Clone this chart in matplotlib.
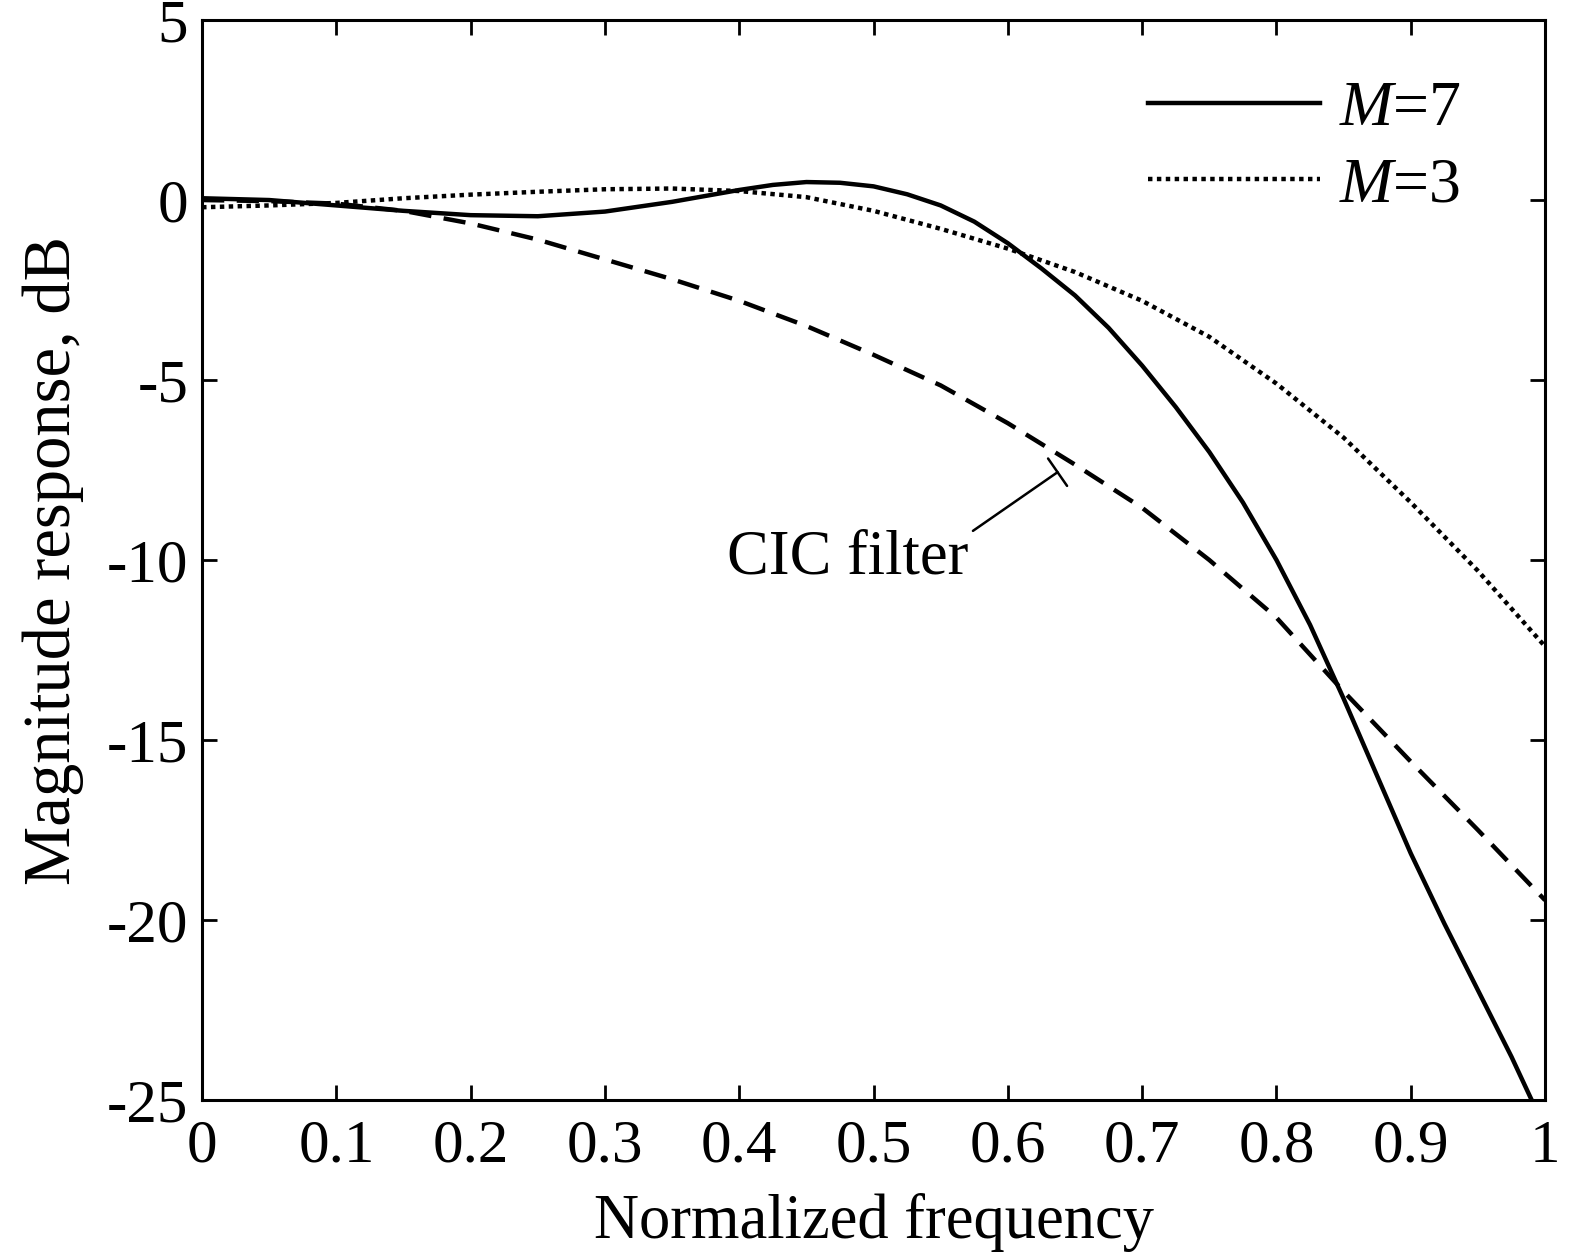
import numpy as np
import matplotlib
matplotlib.use("Agg")
import matplotlib.pyplot as plt

plt.rcParams['font.family'] = ['Liberation Serif', 'DejaVu Serif']
plt.rcParams['mathtext.fontset'] = 'custom'
plt.rcParams['mathtext.it'] = 'Liberation Serif:italic'
plt.rcParams['mathtext.rm'] = 'Liberation Serif'

# M=7 compensated response
f7 = np.array([0, 0.05, 0.1, 0.15, 0.2, 0.25, 0.3, 0.35, 0.4, 0.425, 0.45, 0.475,
               0.5, 0.525, 0.55, 0.575, 0.6, 0.625, 0.65, 0.675, 0.7, 0.725, 0.75,
               0.775, 0.8, 0.825, 0.85, 0.875, 0.9, 0.925, 0.95, 0.975, 1.0])
m7 = np.array([0.05, 0.0, -0.15, -0.3, -0.42, -0.45, -0.32, -0.05, 0.28, 0.42, 0.5, 0.48,
               0.38, 0.16, -0.15, -0.6, -1.2, -1.9, -2.65, -3.55, -4.6, -5.75, -7.0,
               -8.4, -10.0, -11.8, -13.85, -16.0, -18.15, -20.1, -21.95, -23.8, -25.8])

# M=3 compensated response
f3 = np.array([0, 0.05, 0.1, 0.15, 0.2, 0.25, 0.3, 0.35, 0.4, 0.45, 0.5,
               0.55, 0.6, 0.65, 0.7, 0.75, 0.8, 0.85, 0.9, 0.95, 1.0])
m3 = np.array([-0.2, -0.15, -0.08, 0.05, 0.15, 0.23, 0.3, 0.32, 0.25, 0.08, -0.3,
               -0.8, -1.35, -2.0, -2.8, -3.8, -5.1, -6.6, -8.4, -10.3, -12.4])

# CIC filter alone
fc = np.array([0, 0.05, 0.1, 0.15, 0.2, 0.25, 0.3, 0.35, 0.4, 0.45, 0.5,
               0.55, 0.6, 0.65, 0.7, 0.75, 0.8, 0.85, 0.9, 0.95, 1.0])
cic = np.array([0.0, -0.03, -0.1, -0.3, -0.65, -1.1, -1.65, -2.2, -2.8, -3.5, -4.3,
                -5.15, -6.2, -7.35, -8.55, -10.0, -11.6, -13.65, -15.6, -17.5, -19.45])

xtick_labels = ['0', '0.1', '0.2', '0.3', '0.4', '0.5', '0.6', '0.7', '0.8', '0.9', '1']
ytick_vals = [5, 0, -5, -10, -15, -20, -25]

fig = plt.figure(figsize=(15.75, 12.53), dpi=100)
ax = fig.add_axes([0.1283, 0.1221, 0.981 - 0.1283, 0.984 - 0.1221])

ax.plot(fc, cic, color='black', lw=3.2, linestyle=(0, (5, 2.8)))
ax.plot(f7, m7, color='black', lw=3.2, label='$M$=7')
ax.plot(f3, m3, color='black', lw=3.2, linestyle=(0, (1, 1)), label='$M$=3')

ax.set_xlim(0, 1)
ax.set_ylim(-25, 5)
ax.set_xticks(np.linspace(0, 1, 11))
ax.set_xticklabels(xtick_labels)
ax.set_yticks(ytick_vals)
ax.set_yticklabels([str(v) for v in ytick_vals])
ax.tick_params(direction='in', length=11, width=2, labelsize=44,
               top=True, right=True)
ax.tick_params(axis='x', pad=14)
ax.tick_params(axis='y', pad=10)
for s in ax.spines.values():
    s.set_linewidth(2.2)

ax.set_xlabel('Normalized frequency', fontsize=45, labelpad=13)
ax.set_ylabel('Magnitude response, dB', fontsize=48, labelpad=16)

# CIC filter label with leader line
ax.text(0.391, -10.38, 'CIC filter', fontsize=45, ha='left', va='baseline')
ax.annotate('', xy=(0.637, -7.56), xytext=(0.574, -9.19),
            arrowprops=dict(arrowstyle='-[, widthB=0.6, lengthB=0', color='black',
                            lw=1.8, shrinkA=0, shrinkB=0, mutation_scale=20))

ax.legend(loc='upper left', bbox_to_anchor=(0.704, 0.944), frameon=False,
          fontsize=46, handlelength=2.7, handletextpad=0.3, borderpad=0,
          borderaxespad=0, labelspacing=0.28)

fig.savefig('out.png', dpi=100)
